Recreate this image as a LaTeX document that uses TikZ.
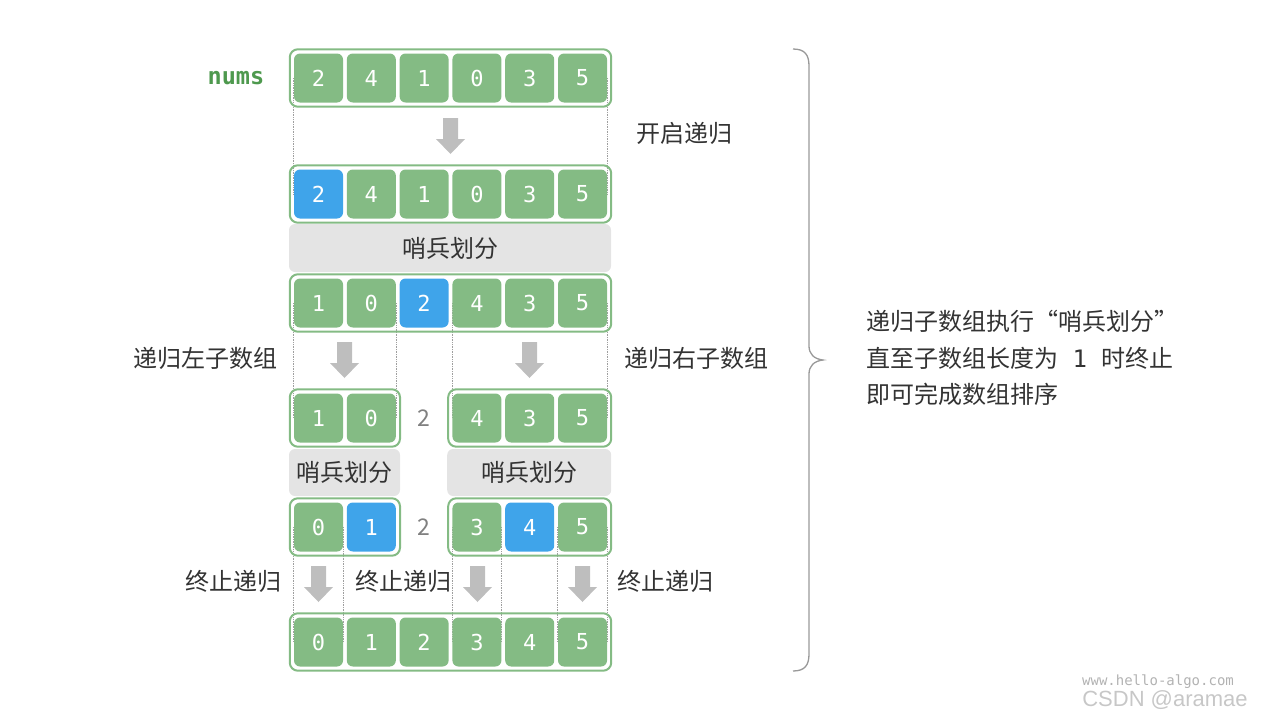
\documentclass[tikz,border=0pt]{standalone}
\usepackage{fontspec}
\setmainfont{Noto Sans CJK SC}
\newfontfamily\numfont{DejaVu Sans Mono}
\newfontfamily\wmfont{Liberation Sans}
\usetikzlibrary{fit,backgrounds}

\definecolor{cellgreen}{HTML}{84BB84}
\definecolor{cellblue}{HTML}{3FA4EA}
\definecolor{boxgray}{HTML}{E4E4E4}
\definecolor{arrgray}{HTML}{BEBEBE}
\definecolor{txtdark}{HTML}{333333}
\definecolor{numsgreen}{HTML}{4E994E}

\newcommand\cnsize{\fontsize{24pt}{28pt}\selectfont}

\tikzset{
	cell/.style={rounded corners=6pt, fill=cellgreen, minimum size=49pt, inner sep=0pt,
		text=white, font=\numfont\fontsize{22pt}{24pt}\selectfont},
	frame/.style={draw=cellgreen, line width=2pt, rounded corners=8pt, inner sep=4pt},
	partbox/.style={fill=boxgray, rounded corners=6pt, inner sep=0pt, text=txtdark, font=\cnsize},
	note/.style={inner sep=0pt, text=txtdark, font=\cnsize},
	guide/.style={draw=gray!75, densely dotted, line width=0.7pt},
	downarrow/.pic={
		\fill[arrgray] (-7.5,0) -- (7.5,0) -- (7.5,21) -- (14.5,21) -- (0,36)
			-- (-14.5,21) -- (-7.5,21) -- cycle;
	}
}

\begin{document}
\begin{tikzpicture}[x=1pt,y=-1pt]
	\useasboundingbox (0,0) rectangle (1280,720);
	
	%%%%% ROWS %%%%%
	\foreach \v [count=\i from 0] in {2,4,1,0,3,5}
		\node[cell] (r0c\i) at ({318.5+52.8*\i},78) {\v};
	
	\foreach \v/\c [count=\i from 0] in {2/cellblue,4/cellgreen,1/cellgreen,0/cellgreen,3/cellgreen,5/cellgreen}
		\node[cell, fill=\c] (r1c\i) at ({318.5+52.8*\i},194) {\v};
	
	\foreach \v/\c [count=\i from 0] in {1/cellgreen,0/cellgreen,2/cellblue,4/cellgreen,3/cellgreen,5/cellgreen}
		\node[cell, fill=\c] (r2c\i) at ({318.5+52.8*\i},303) {\v};
	
	\foreach \i/\v in {0/1,1/0,3/4,4/3,5/5}
		\node[cell] (r3c\i) at ({318.5+52.8*\i},418) {\v};
	
	\foreach \i/\v/\c in {0/0/cellgreen,1/1/cellblue,3/3/cellgreen,4/4/cellblue,5/5/cellgreen}
		\node[cell, fill=\c] (r4c\i) at ({318.5+52.8*\i},527) {\v};
	
	\foreach \v [count=\i from 0] in {0,1,2,3,4,5}
		\node[cell] (r5c\i) at ({318.5+52.8*\i},642) {\v};
	
	%%%%% FRAMES %%%%%
	\node[frame, fit=(r0c0)(r0c5)] (f0) {};
	\node[frame, fit=(r1c0)(r1c5)] (f1) {};
	\node[frame, fit=(r2c0)(r2c5)] (f2) {};
	\node[frame, fit=(r3c0)(r3c1)] (f3l) {};
	\node[frame, fit=(r3c3)(r3c5)] (f3r) {};
	\node[frame, fit=(r4c0)(r4c1)] (f4l) {};
	\node[frame, fit=(r4c3)(r4c5)] (f4r) {};
	\node[frame, fit=(r5c0)(r5c5)] (f5) {};
	
	% pivot left between the two halves
	\node[inner sep=0pt, text=gray, font=\fontsize{23pt}{24pt}\selectfont] (r3p) at (424,418) {2};
	\node[inner sep=0pt, text=gray, font=\fontsize{23pt}{24pt}\selectfont] (r4p) at (424,527) {2};
	
	%%%%% PARTITION BOXES %%%%%
	\node[partbox, minimum width=322pt, minimum height=48pt] (p1) at (450,248) {哨兵划分};
	\node[partbox, minimum width=111pt, minimum height=47pt] (p3l) at (344.5,472.5) {哨兵划分};
	\node[partbox, minimum width=164pt, minimum height=47pt] (p3r) at (529.2,472.5) {哨兵划分};
	
	%%%%% GUIDES %%%%%
	\begin{scope}[on background layer]
		\foreach \a/\b in {r0c0.west/r1c0.west, r0c5.east/r1c5.east,
			r2c0.west/r3c0.west, r2c1.east/r3c1.east, r2c3.west/r3c3.west, r2c5.east/r3c5.east,
			r4c0.west/r5c0.west, r4c0.east/r5c0.east, r4c3.west/r5c3.west, r4c3.east/r5c3.east,
			r4c5.west/r5c5.west, r4c5.east/r5c5.east}
			\draw[guide] (\a) -- (\b);
	\end{scope}
	
	%%%%% ARROWS %%%%%
	\pic (arr0) at (450.5,118) {downarrow};
	\pic (arr2l) at (344.5,342) {downarrow};
	\pic (arr2r) at (529.5,342) {downarrow};
	\pic (arr4a) at (318.5,566) {downarrow};
	\pic (arr4b) at (477.5,566) {downarrow};
	\pic (arr4c) at (582.5,566) {downarrow};
	
	%%%%% LABELS %%%%%
	\node[inner sep=0pt, text=numsgreen, font=\numfont\bfseries\fontsize{23.5pt}{24pt}\selectfont] (numslbl) at (236,78) {nums};
	\node[note] (start) at (684,133) {开启递归};
	\node[note] (leftrec) at (205,358) {递归左子数组};
	\node[note] (rightrec) at (696,358) {递归右子数组};
	\node[note] (stop1) at (233,581) {终止递归};
	\node[note] (stop2) at (403,581) {终止递归};
	\node[note] (stop3) at (665,581) {终止递归};
	
	%%%%% BRACE AND SUMMARY %%%%%
	\draw[gray!80, line width=1.3pt] (793,49) .. controls (805,49) and (809,55) .. (809,66)
		-- (809,346) .. controls (809,354) and (814,359) .. (823,360)
		.. controls (814,361) and (809,366) .. (809,374)
		-- (809,654) .. controls (809,665) and (805,671) .. (793,671);
	\node[note, anchor=west, align=left, font=\fontsize{24pt}{36.5pt}\selectfont] (summary) at (866,358)
		{递归子数组执行“哨兵划分”\\直至子数组长度为{\numfont\ 1\ }时终止\\即可完成数组排序};
	
	%%%%% WATERMARK %%%%%
	\node[inner sep=0pt, text=black!30, font=\numfont\fontsize{14pt}{16pt}\selectfont] (wm1) at (1158,682) {www.hello-algo.com};
	\node[inner sep=0pt, text=black!22, font=\wmfont\fontsize{22pt}{24pt}\selectfont] (wm2) at (1165,700) {CSDN @aramae};
\end{tikzpicture}
\end{document}
